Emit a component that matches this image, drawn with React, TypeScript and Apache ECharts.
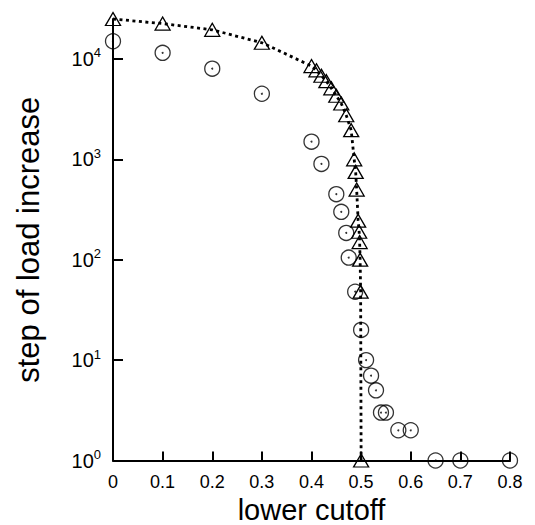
import React, { useEffect, useRef } from "react";
import * as echarts from "echarts";

const triX = [0, 0.1, 0.2, 0.3, 0.4, 0.41, 0.42, 0.43, 0.44, 0.45, 0.46, 0.47, 0.48, 0.486, 0.489, 0.491, 0.494, 0.496, 0.497, 0.498, 0.499, 0.5];
const triY = [25000, 22500, 19500, 14500, 8500, 7700, 6800, 6000, 5100, 4300, 3600, 2750, 1950, 1000, 750, 500, 245, 190, 150, 100, 48, 1];

const circX = [0, 0.1, 0.2, 0.3, 0.4, 0.42, 0.45, 0.46, 0.47, 0.475, 0.488, 0.5, 0.51, 0.52, 0.53, 0.54, 0.55, 0.575, 0.6, 0.65, 0.7, 0.8];
const circY = [15000, 11500, 8000, 4500, 1500, 900, 450, 300, 185, 105, 48, 20, 10, 7, 5, 3, 3, 2, 2, 1, 1, 1];

const yTicks = [1, 10, 100, 1000, 10000];
const xTicks = [0, 0.1, 0.2, 0.3, 0.4, 0.5, 0.6, 0.7, 0.8];

const FONT = "Liberation Sans";

export default function App() {
  const ref = useRef<HTMLDivElement>(null);
  useEffect(() => {
    document.body.style.margin = "0";
    const chart = echarts.init(ref.current!, null, { renderer: "svg" });
    const tri = triX.map((x, i) => [x, triY[i]]);
    const circ = circX.map((x, i) => [x, circY[i]]);
    chart.setOption({
      animation: false,
      backgroundColor: "#fff",
      grid: { left: 113, right: 25, top: 19, bottom: 64.5, containLabel: false, outerBoundsMode: "none" },
      xAxis: {
        type: "value",
        min: 0,
        max: 0.8,
        interval: 0.1,
        name: "lower cutoff",
        nameLocation: "middle",
        nameGap: 32,
        nameTextStyle: { fontFamily: FONT, fontSize: 29, color: "#000" },
        axisLine: { show: true, lineStyle: { color: "#000", width: 2 } },
        axisTick: { show: true, inside: true, length: 9, lineStyle: { color: "#000", width: 2 }, customValues: xTicks },
        axisLabel: {
          fontFamily: FONT, fontSize: 18, color: "#000", margin: 12,
          customValues: xTicks,
          formatter: (v: number) => (Math.round(v * 10) / 10).toString(),
        },
        splitLine: { show: false },
      },
      yAxis: {
        type: "log",
        logBase: 10,
        min: 1,
        max: 25000,
        name: "step of load increase",
        nameLocation: "middle",
        nameGap: 69,
        nameTextStyle: { fontFamily: FONT, fontSize: 31, color: "#000" },
        axisLine: { show: true, lineStyle: { color: "#000", width: 2 } },
        axisTick: { show: true, inside: true, length: 10, lineStyle: { color: "#000", width: 2 }, customValues: yTicks },
        axisLabel: {
          customValues: yTicks,
          margin: 12,
          color: "#000",
          formatter: (v: number) => `{b|10}{s|${Math.round(Math.log10(v))}}`,
          rich: {
            b: { fontFamily: FONT, fontSize: 20, color: "#000", lineHeight: 25 },
            s: { fontFamily: FONT, fontSize: 13, color: "#000", lineHeight: 14, verticalAlign: "top" },
          },
        },
        splitLine: { show: false },
      },
      series: [
        {
          type: "line",
          data: tri,
          clip: false,
          symbol: "triangle",
          symbolSize: [15, 13],
          showAllSymbol: true,
          lineStyle: { color: "#000", width: 2.8, type: [3, 3.5] },
          itemStyle: { color: "transparent", borderColor: "#000", borderWidth: 1.3 },
          z: 3,
        },
        {
          type: "scatter",
          data: circ,
          clip: false,
          symbol: "circle",
          symbolSize: 15,
          itemStyle: { color: "transparent", borderColor: "#000", borderWidth: 1.3 },
          z: 4,
        },
        {
          type: "scatter",
          data: circ,
          clip: false,
          symbol: "circle",
          symbolSize: 2,
          itemStyle: { color: "#000" },
          z: 5,
        },
      ],
    });
    return () => chart.dispose();
  }, []);
  return <div ref={ref} style={{ width: 535, height: 525 }} />;
}
